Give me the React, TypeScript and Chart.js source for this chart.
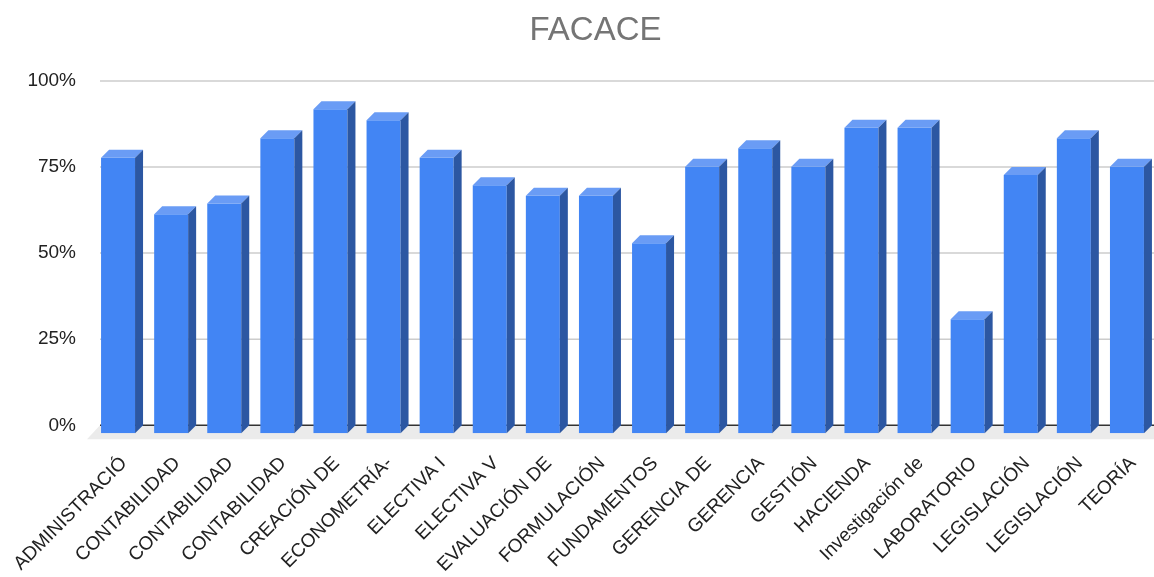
import React, { useEffect, useRef } from "react";
import { Chart, registerables } from "chart.js";

Chart.register(...registerables);

const chartTitle = "FACACE";

const categories = [
  "ADMINISTRACIÓ",
  "CONTABILIDAD",
  "CONTABILIDAD",
  "CONTABILIDAD",
  "CREACIÓN DE",
  "ECONOMETRÍA-",
  "ELECTIVA I",
  "ELECTIVA V",
  "EVALUACIÓN DE",
  "FORMULACIÓN",
  "FUNDAMENTOS",
  "GERENCIA DE",
  "GERENCIA",
  "GESTIÓN",
  "HACIENDA",
  "Investigación de",
  "LABORATORIO",
  "LEGISLACIÓN",
  "LEGISLACIÓN",
  "TEORÍA",
];

const values = [
  0.8, 0.636, 0.667, 0.857, 0.941, 0.909, 0.8, 0.72, 0.69, 0.69,
  0.552, 0.774, 0.828, 0.774, 0.887, 0.887, 0.331, 0.75, 0.857, 0.774,
];

const yTickValues = [0, 0.25, 0.5, 0.75, 1];

const FONT = '"Liberation Sans", Arial, sans-serif';
const DX = 8;
const DY = 8;

const depthPlugin = {
  id: "depth3d",
  beforeDatasetsDraw(chart: any) {
    const { ctx, chartArea, scales, width } = chart;
    const y = scales.y;
    const base = y.getPixelForValue(0);
    ctx.save();
    // floor
    ctx.fillStyle = "#ebebeb";
    ctx.beginPath();
    ctx.moveTo(chartArea.left + DX + 0.5, base - DY);
    ctx.lineTo(width + 20, base - DY);
    ctx.lineTo(width + 20, base + 6);
    ctx.lineTo(chartArea.left - 4.5, base + 6);
    ctx.closePath();
    ctx.fill();
    // back-wall grid lines
    ctx.strokeStyle = "#cccccc";
    ctx.lineWidth = 1.5;
    yTickValues.forEach((v) => {
      if (v === 0) return;
      const yy = y.getPixelForValue(v) - DY;
      ctx.beginPath();
      ctx.moveTo(chartArea.left + DX + 0.5, yy);
      ctx.lineTo(width, yy);
      ctx.stroke();
    });
    // baseline
    ctx.strokeStyle = "#333333";
    ctx.lineWidth = 1.5;
    ctx.beginPath();
    ctx.moveTo(chartArea.left + DX + 0.5, base - DY);
    ctx.lineTo(width, base - DY);
    ctx.stroke();
    ctx.restore();
  },
  afterDatasetsDraw(chart: any) {
    const { ctx } = chart;
    const meta = chart.getDatasetMeta(0);
    ctx.save();
    meta.data.forEach((bar: any) => {
      const { x, y, base, width } = bar.getProps(["x", "y", "base", "width"], true);
      const l = x - width / 2;
      const r = x + width / 2;
      // top face
      ctx.fillStyle = "#6a9cf5";
      ctx.beginPath();
      ctx.moveTo(l, y);
      ctx.lineTo(l + DX, y - DY);
      ctx.lineTo(r + DX, y - DY);
      ctx.lineTo(r, y);
      ctx.closePath();
      ctx.fill();
      // side face
      ctx.fillStyle = "#2c57a2";
      ctx.beginPath();
      ctx.moveTo(r, y);
      ctx.lineTo(r + DX, y - DY);
      ctx.lineTo(r + DX, base - DY);
      ctx.lineTo(r, base);
      ctx.closePath();
      ctx.fill();
    });
    ctx.restore();
  },
  afterDraw(chart: any) {
    const { ctx } = chart;
    ctx.save();
    ctx.fillStyle = "#757575";
    ctx.font = `33px ${FONT}`;
    ctx.textAlign = "center";
    ctx.textBaseline = "alphabetic";
    ctx.fillText(chartTitle, 595.5, 40);
    ctx.restore();
  },
};

export default function App() {
  const canvasRef = useRef<HTMLCanvasElement | null>(null);

  useEffect(() => {
    if (!canvasRef.current) return;
    const chart = new Chart(canvasRef.current, {
      type: "bar",
      data: {
        labels: categories,
        datasets: [
          {
            data: values,
            backgroundColor: "#4285f4",
            borderWidth: 0,
            barPercentage: 0.64,
            categoryPercentage: 1,
          },
        ],
      },
      plugins: [depthPlugin],
      options: {
        animation: false,
        responsive: true,
        maintainAspectRatio: false,
        events: [],
        layout: { padding: { top: 88.9, right: 0.5, left: 0, bottom: 0 } },
        plugins: {
          legend: { display: false },
          tooltip: { enabled: false },
          title: { display: false },
        },
        scales: {
          x: {
            grid: { display: false, drawTicks: false },
            border: { display: false },
            ticks: {
              autoSkip: false,
              maxRotation: 45,
              minRotation: 45,
              labelOffset: 6,
              padding: 19,
              color: "#222222",
              font: { family: FONT, size: 19 },
            },
            afterFit: (scale: any) => {
              scale.height = 143.7;
              scale.paddingLeft = 0;
              scale.paddingRight = 0;
            },
          },
          y: {
            min: 0,
            max: 1,
            grid: { display: false, drawTicks: false },
            border: { display: false },
            ticks: {
              stepSize: 0.25,
              padding: 15.5,
              labelOffset: -DY,
              color: "#222222",
              font: { family: FONT, size: 19 },
              callback: (v: any) => `${Math.round(Number(v) * 100)}%`,
            },
            afterFit: (scale: any) => {
              scale.width = 91.5;
              scale.paddingTop = 0;
              scale.paddingBottom = 0;
            },
          },
        },
      },
    });
    return () => chart.destroy();
  }, []);

  return (
    <div style={{ position: "absolute", left: 0, top: 0, width: 1154, height: 577, background: "#fff" }}>
      <canvas ref={canvasRef} />
    </div>
  );
}
